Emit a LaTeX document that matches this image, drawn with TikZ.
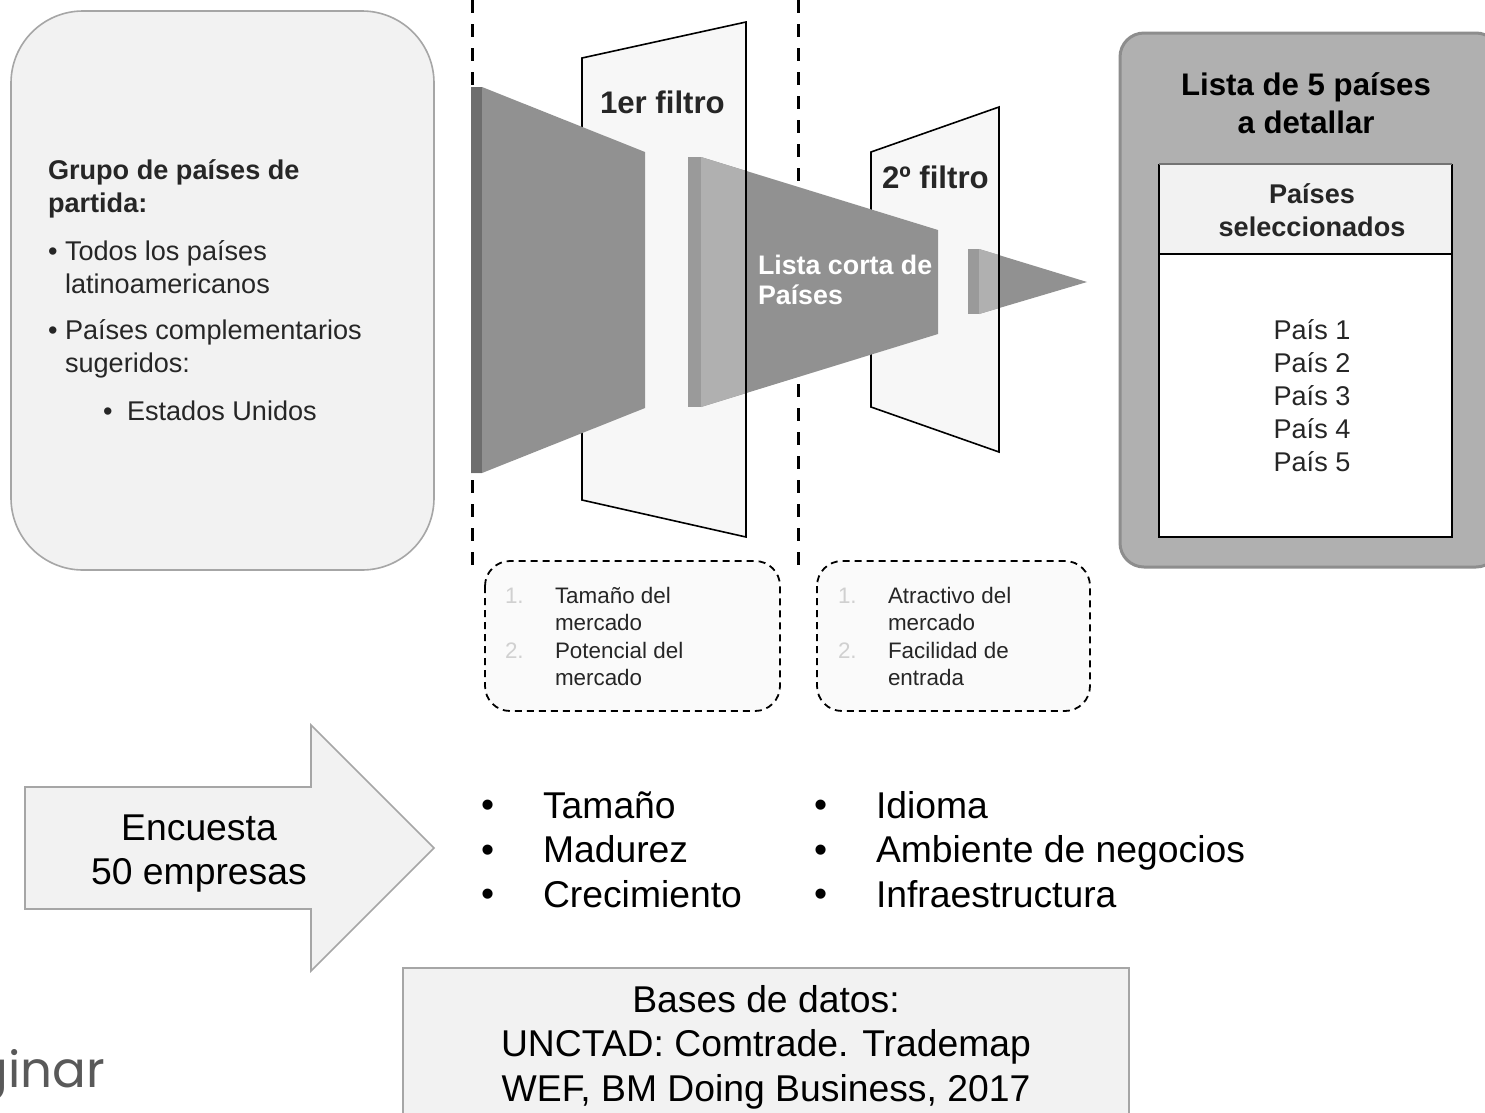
\documentclass[tikz,border=0pt]{standalone}
\usepackage{fontspec}
\setmainfont{Liberation Sans}
\newfontfamily\logofont{Poppins}
\newcommand{\fs}[2]{\fontsize{#1}{#2}\selectfont}
\definecolor{panel}{HTML}{F2F2F2}
\definecolor{edge}{HTML}{A6A6A6}
\definecolor{funnel}{HTML}{919191}
\definecolor{bandA}{HTML}{6E6E6E}
\definecolor{bandB}{HTML}{9A9A9A}
\definecolor{lightf}{HTML}{B0B0B0}
\definecolor{filterf}{HTML}{F7F7F7}
\definecolor{ink}{HTML}{262626}
\definecolor{numc}{HTML}{D0D0D0}
\tikzset{
  txt/.style={inner sep=0pt,outer sep=0pt,anchor=west,align=left,text=ink},
  ctxt/.style={inner sep=0pt,outer sep=0pt,anchor=center,align=center,text=ink},
  big/.style={font=\fs{37.3}{44.5},text=black},
  mid/.style={font=\fs{27.1}{33}},
  midb/.style={font=\fs{27.1}{33}\bfseries},
  small/.style={font=\fs{22.4}{27.7}},
  ttl/.style={font=\fs{31.2}{38}\bfseries},
  filterp/.style={fill=filterf,draw=black,line width=1.6pt},
  sep/.style={draw=black,line width=3pt,dash pattern=on 13pt off 11pt},
  dbox/.style={draw=black,line width=1.8pt,dash pattern=on 7pt off 5pt,fill=black!2,rounded corners=25pt},
  panelbox/.style={fill=panel,draw=edge,line width=1.6pt}
}
\begin{document}
\begin{tikzpicture}[x=1pt,y=-1pt]
\useasboundingbox (0,0) rectangle (1485,1112);
\fill[white] (0,0) rectangle (1485,1112);
\begin{scope}
\clip (0,0) rectangle (1485,1112);
% left panel
\draw[panelbox,rounded corners=72pt] (11,11) rectangle (434,570);
% right panel
\draw[fill=lightf,draw=edge!85!black,line width=3pt,rounded corners=24pt] (1120,33) rectangle (1500,567);
\fill[white] (1159,164) rectangle (1452,537);
\fill[panel] (1159,164) rectangle (1452,254);
\draw[black,line width=1.6pt] (1159,164) -- (1159,537) -- (1452,537) -- (1452,164);
\draw[edge!70!black,line width=1.2pt] (1159,164) -- (1452,164);
\draw[black,line width=1.6pt] (1159,254) -- (1452,254);
% separators
\coordinate (s1a) at (472,0); \coordinate (s1b) at (472,566);
\coordinate (s2a) at (798,0); \coordinate (s2b) at (798,566);
\draw[sep] (s1a) -- (s1b);
\draw[sep] (s2a) -- (s2b);
% filters
\draw[filterp] (582,58) -- (746,22) -- (746,537) -- (582,500) -- cycle;
\draw[filterp] (871,152) -- (999,107) -- (999,452) -- (871,407) -- cycle;
% funnels
\fill[funnel] (471,87) -- (482,87) -- (645,152) -- (645,408) -- (482,473) -- (471,473) -- cycle;
\fill[bandA] (471,87) rectangle (482,473);
\fill[funnel] (701,157) -- (938,230) -- (938,334) -- (701,407) -- cycle;
\fill[bandB] (688,157) rectangle (701,407);
\fill[lightf] (701,157) -- (746,171) -- (746,393) -- (701,407) -- cycle;
\fill[funnel] (979,249) -- (1087,282) -- (979,314) -- cycle;
\fill[bandB] (968,249) rectangle (979,314);
\fill[lightf] (979,249) -- (999,255) -- (999,308) -- (979,314) -- cycle;
\draw[black,line width=1.6pt] (746,22) -- (746,537);
\draw[black,line width=1.6pt] (999,107) -- (999,452);
% dashed boxes
\draw[dbox] (485,561) rectangle (780,711);
\draw[dbox] (817,561) rectangle (1090,711);
% arrow
\draw[panelbox] (25,787) -- (311,787) -- (311,725) -- (434,848) -- (311,971) -- (311,909) -- (25,909) -- cycle;
% bottom box
\draw[panelbox] (403,968) rectangle (1129,1130);
% logo
\node[inner sep=0pt,anchor=base east,font=\logofont\fs{50}{50},text=black!65] (logo) at (105,1087) {ginar};
\end{scope}
% left panel text
\node[txt,midb] (grupo) at (48,188.5) {Grupo de países de\\partida:};
\node[txt,mid] (b1) at (48,254) {•};
\node[txt,mid] (t1) at (65,267.5) {Todos los países\\latinoamericanos};
\node[txt,mid] (b2) at (48,333) {•};
\node[txt,mid] (t2) at (65,348.5) {Países complementarios\\sugeridos:};
\node[txt,mid] (b3) at (103,414) {•};
\node[txt,mid] (t3) at (127,411) {Estados Unidos};
% filter labels
\node[txt,ttl] (f1) at (600,102) {1er filtro};
\node[txt,ttl] (f2) at (882,177) {2º filtro};
\node[txt,font=\fs{26.8}{30}\bfseries,text=white] (lc) at (758,280) {Lista corta de\\Países};
% right panel text
\node[ctxt,ttl,text=black] (rt) at (1306,103) {Lista de 5 países\\a detallar};
\node[ctxt,midb] (rh) at (1312,210.5) {Países\\seleccionados};
\node[ctxt,mid] (rl) at (1312,396) {País 1\\País 2\\País 3\\País 4\\País 5};
% dashed box text
\node[txt,small,text=numc] (n1) at (505,596) {1.};
\node[txt,small] (d1) at (555,609) {Tamaño del\\mercado};
\node[txt,small,text=numc] (n2) at (505,651) {2.};
\node[txt,small] (d2) at (555,664) {Potencial del\\mercado};
\node[txt,small,text=numc] (n3) at (838,596) {1.};
\node[txt,small] (d3) at (888,609) {Atractivo del\\mercado};
\node[txt,small,text=numc] (n4) at (838,651) {2.};
\node[txt,small] (d4) at (888,664) {Facilidad de\\entrada};
% arrow text
\node[ctxt,big] (enc) at (199,853.5) {Encuesta\\50 empresas};
% lists
\node[txt,big] (l1b) at (481,853.5) {•\\•\\•};
\node[txt,big] (l1) at (543,849.5) {Tamaño\\Madurez\\Crecimiento};
\node[txt,big] (l2b) at (814,853.5) {•\\•\\•};
\node[txt,big] (l2) at (876,849.5) {Idioma\\Ambiente de negocios\\Infraestructura};
% bottom text
\node[ctxt,big] (bd) at (766,1047) {Bases de datos:\\UNCTAD: Comtrade. Trademap\\WEF, BM Doing Business, 2017};
\end{tikzpicture}
\end{document}
